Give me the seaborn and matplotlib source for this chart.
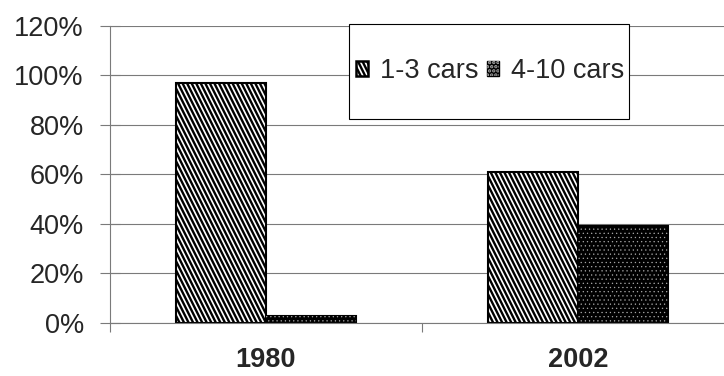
import numpy as np
import pandas as pd
import matplotlib
matplotlib.use("Agg")
import matplotlib.pyplot as plt
import matplotlib.hatch as mhatch
from matplotlib.path import Path
from matplotlib.patches import Patch, Rectangle
from matplotlib.legend_handler import HandlerTuple
from matplotlib.ticker import FixedLocator, PercentFormatter
import seaborn as sns

# ---- data -------------------------------------------------------------
years = ["1980", "2002"]
groups = ["1-3 cars", "4-10 cars"]
share_1_3 = [0.97, 0.61]
share_4_10 = [0.03, 0.39]
y_ticks = [0.0, 0.2, 0.4, 0.6, 0.8, 1.0, 1.2]


# ---- a steep back-slash stripe hatch ---------------------------------
class SteepBackslashHatch(mhatch.HatchPatternBase):
    """Lines falling to the right at roughly 63 degrees."""

    def __init__(self, hatch, density):
        n = 11 * hatch.count("\\")
        self.num_lines = n
        if n:
            self._offsets = np.arange(-(n // 2) - 1, n + 2) / n
            self.num_vertices = 2 * len(self._offsets)
        else:
            self._offsets = np.empty(0)
            self.num_vertices = 0

    def set_vertices_and_codes(self, vertices, codes):
        xs = self._offsets
        vertices[0::2, 0] = xs
        vertices[0::2, 1] = 1.0
        vertices[1::2, 0] = xs + 0.5
        vertices[1::2, 1] = 0.0
        codes[0::2] = Path.MOVETO
        codes[1::2] = Path.LINETO


mhatch._hatch_types[mhatch._hatch_types.index(mhatch.SouthEastHatch)] = SteepBackslashHatch

STRIPES = "\\\\"
DOTS = "...."

sns.set_style("white")
plt.rcParams["font.family"] = ["Liberation Sans", "DejaVu Sans"]
plt.rcParams["hatch.linewidth"] = 1.7

df = pd.DataFrame({
    "year": years * 2,
    "group": [groups[0]] * len(years) + [groups[1]] * len(years),
    "share": share_1_3 + share_4_10,
})

fig = plt.figure(figsize=(7.24, 3.76), dpi=100)
ax = fig.add_axes([0.1519, 0.1410, 0.8619, 0.7899])

sns.barplot(
    data=df, x="year", y="share", hue="group", order=years, hue_order=groups,
    palette={groups[0]: "white", groups[1]: "black"},
    edgecolor="black", linewidth=1.5, width=0.575, legend=False, ax=ax,
)

# stripes on the smaller-fleet bars, grey dots on the larger-fleet bars
for p in ax.containers[0]:
    p.set_hatch(STRIPES)
for p in ax.containers[1]:
    dots = Rectangle((p.get_x(), p.get_y()), p.get_width(), p.get_height(),
                     facecolor="none", edgecolor="#a8a8a8", linewidth=0,
                     hatch=DOTS, zorder=p.get_zorder() + 0.1)
    if hasattr(dots, "set_hatch_linewidth"):
        dots.set_hatch_linewidth(0.4)
    ax.add_patch(dots)

# ---- axes -------------------------------------------------------------
grey = "#7a7a7a"
ax.set_xlim(-0.5, 1.5)
ax.set_ylim(0, 1.2)
ax.set_axisbelow(True)
ax.yaxis.grid(True, color=grey, linewidth=0.8)
ax.xaxis.grid(False)

ax.yaxis.set_major_locator(FixedLocator(y_ticks))
ax.yaxis.set_major_formatter(PercentFormatter(1.0, decimals=0))
ax.tick_params(axis="y", direction="inout", length=13.7, width=0.8,
               color=grey, pad=12.0, labelsize=19.5, left=True)

ax.xaxis.set_minor_locator(FixedLocator([-0.5, 0.5, 1.5]))
ax.tick_params(axis="x", which="minor", direction="out", length=6.5,
               width=0.8, color=grey, bottom=True)
ax.tick_params(axis="x", which="major", length=0, pad=17)
for lab in ax.get_xticklabels():
    lab.set_fontweight("bold")
    lab.set_fontsize(19.5)

ax.set_xlabel("")
ax.set_ylabel("")
for side in ("top", "right"):
    ax.spines[side].set_visible(False)
for side in ("left", "bottom"):
    ax.spines[side].set_color(grey)
    ax.spines[side].set_linewidth(0.8)

# ---- legend -----------------------------------------------------------
ax.add_patch(Rectangle((0.482, 0.6835), 0.387, 0.254, transform=fig.transFigure,
                       facecolor="white", edgecolor="black", linewidth=0.8,
                       zorder=4, clip_on=False))
h1 = Patch(facecolor="white", edgecolor="black", linewidth=1.8, hatch=STRIPES)
h2a = Patch(facecolor="black", edgecolor="black", linewidth=1.0)
h2b = Patch(facecolor="none", edgecolor="#a8a8a8", linewidth=0, hatch=DOTS)
ax.legend([h1, (h2a, h2b)], groups, handler_map={tuple: HandlerTuple(ndivide=1, pad=0)},
          loc="center left", bbox_to_anchor=(0.4917, 0.811),
          bbox_transform=fig.transFigure, ncol=2, frameon=False,
          borderpad=0, borderaxespad=0, handlelength=0.45, handleheight=0.5,
          handletextpad=0.45, columnspacing=0.3, fontsize=19.5)

fig.savefig("out.png", dpi=100)
